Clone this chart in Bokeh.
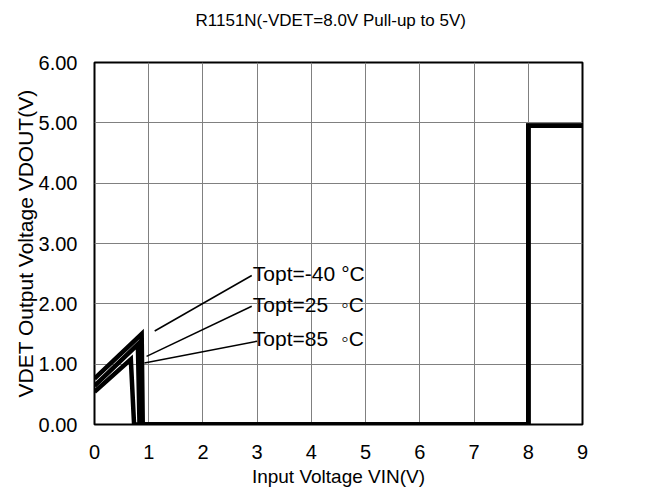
from bokeh.plotting import figure
from bokeh.models import Range1d, FixedTicker, PrintfTickFormatter
from bokeh.embed import file_html
from bokeh.resources import INLINE
from bokeh.core.properties import value

# ---- data ----
vin_m40 = [0.0, 0.87, 0.89, 1.0, 8.0, 8.0, 9.0]
vout_m40 = [0.76, 1.50, 0.0, 0.0, 0.0, 4.95, 4.95]
vin_25 = [0.0, 0.80, 0.83, 1.0, 8.0, 8.0, 9.0]
vout_25 = [0.64, 1.33, 0.0, 0.0, 0.0, 4.95, 4.95]
vin_85 = [0.0, 0.67, 0.73, 1.0, 8.0, 8.0, 9.0]
vout_85 = [0.54, 1.08, 0.0, 0.0, 0.0, 4.95, 4.95]

x_ticks = [0, 1, 2, 3, 4, 5, 6, 7, 8, 9]
y_ticks = [0, 1, 2, 3, 4, 5, 6]

title_text = "R1151N(-VDET=8.0V Pull-up to 5V)"
x_label = "Input Voltage VIN(V)"
y_label = "VDET Output Voltage VDOUT(V)"

ann_texts = ["Topt=-40", "Topt=25", "Topt=85"]
ann_text_x = [2.92, 2.92, 2.92]
ann_text_y = [2.50, 1.99, 1.43]
ann_deg = ["°C", "◦C", "◦C"]
ann_deg_x = [4.55, 4.55, 4.55]
ann_line_x0 = [2.90, 2.90, 3.00]
ann_line_y0 = [2.47, 1.96, 1.38]
ann_line_x1 = [1.11, 0.96, 0.92]
ann_line_y1 = [1.55, 1.13, 1.02]

FONT = "Liberation Sans"
W, H = 651, 489

p = figure(width=W, height=H, output_backend="svg", toolbar_location=None,
           x_range=Range1d(0, 9), y_range=Range1d(0, 6),
           min_border_left=94, min_border_right=69, min_border_top=61, min_border_bottom=63)
p.background_fill_color = "white"
p.border_fill_color = "white"
p.outline_line_color = "black"
p.outline_line_width = 2

p.title.text = title_text
p.title.text_font = FONT
p.title.text_font_size = "17px"
p.title.text_font_style = "normal"
p.title.text_color = "black"
p.title.align = "left"
p.title.offset = 101
p.title.standoff = 16
p.title.padding = dict(left=0, right=0, top=0, bottom=25)

for ax in (p.xaxis[0], p.yaxis[0]):
    ax.axis_line_color = None
    ax.major_tick_line_color = None
    ax.minor_tick_line_color = None
    ax.major_label_text_font = FONT
    ax.major_label_text_font_size = "20px"
    ax.major_label_text_color = "black"
    ax.axis_label_text_font = FONT
    ax.axis_label_text_font_style = "normal"
    ax.axis_label_text_color = "black"
p.xaxis.ticker = FixedTicker(ticks=x_ticks)
p.yaxis.ticker = FixedTicker(ticks=y_ticks)
p.yaxis.formatter = PrintfTickFormatter(format="%.2f")
p.xaxis.major_label_standoff = 14
p.yaxis.major_label_standoff = 11
p.xaxis.axis_label = x_label
p.xaxis.axis_label_text_font_size = "19px"
p.xaxis.axis_label_standoff = 4
p.yaxis.axis_label = y_label
p.yaxis.axis_label_text_font_size = "21px"
p.yaxis.axis_label_standoff = -1

p.xgrid.ticker = FixedTicker(ticks=x_ticks)
p.ygrid.ticker = FixedTicker(ticks=y_ticks)
for g in (p.xgrid[0], p.ygrid[0]):
    g.grid_line_color = "#808080"
    g.grid_line_width = 1

for xs, ys in ((vin_m40, vout_m40), (vin_25, vout_25), (vin_85, vout_85)):
    p.line(xs, ys, line_color="black", line_width=4.5, line_join="miter")

p.segment(x0=ann_line_x0, y0=ann_line_y0, x1=ann_line_x1, y1=ann_line_y1,
          line_color="black", line_width=1.5)
p.text(x=ann_text_x, y=ann_text_y, text=ann_texts, text_font=value(FONT),
       text_font_size="21px", text_baseline="middle", text_align="left", text_color="black")
p.text(x=ann_deg_x, y=ann_text_y, text=ann_deg, text_font=value(FONT),
       text_font_size="21px", text_baseline="middle", text_align="left", text_color="black")

open("out.html", "w").write(file_html(p, INLINE))
